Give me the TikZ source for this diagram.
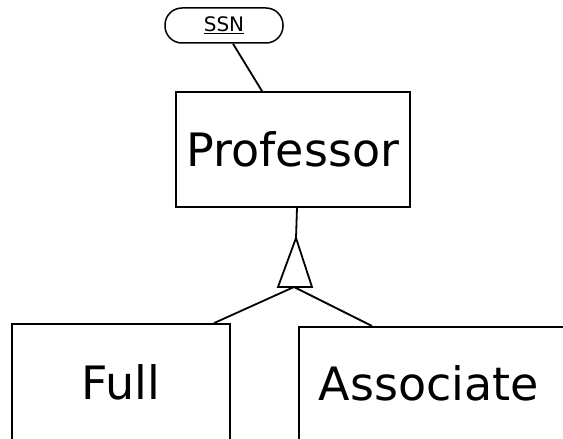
\documentclass[tikz,border=0pt]{standalone}
\usepackage{fontspec}
\setmainfont{DejaVu Sans}
\usetikzlibrary{calc}
\begin{document}
\begin{tikzpicture}[x=1pt,y=1pt,
  entity/.style={draw, line width=1.8pt, inner sep=0pt, font=\fontsize{46}{54}\selectfont},
  attr/.style={draw, line width=1.5pt, rounded corners=17pt, inner sep=0pt,
    minimum width=118, minimum height=35, font=\fontsize{20}{24}\selectfont},
  link/.style={line width=1.8pt}]
  \clip (0,0) rectangle (563,439);
  \fill[white] (0,0) rectangle (563,439);

  % superclass with its key attribute
  \node[entity, minimum width=234, minimum height=115] (prof) at (293,289.5) {Professor};
  \node[attr] (ssn) at (224,413.5) {\underline{SSN}};

  % ISA triangle
  \coordinate (isa-top) at (296,201);
  \coordinate (isa-bl) at (278,152);
  \coordinate (isa-br) at (312,152);
  \coordinate (isa-base) at (294,152);
  \draw[link, line join=miter] (isa-top) -- (isa-bl) -- (isa-br) -- cycle;

  % subclasses
  \node[entity, minimum width=218, minimum height=116] (full) at (121,57) {Full};
  \node[entity, minimum width=300, minimum height=116, anchor=north west] (assoc) at (298,113) {};
  \node[font=\fontsize{46}{54}\selectfont, inner sep=0pt] (assoc-name) at (429,56) {Associate};

  % connectors
  \draw[link] ($(ssn.south)+(9,0)$) -- ($(prof.north)+(-31,0)$);
  \draw[link] ($(prof.south)+(4,0)$) -- (isa-top);
  \draw[link] (isa-base) -- ($(full.north)+(93,0)$);
  \draw[link] (isa-base) -- ($(assoc.north west)+(74,0)$);
\end{tikzpicture}
\end{document}
